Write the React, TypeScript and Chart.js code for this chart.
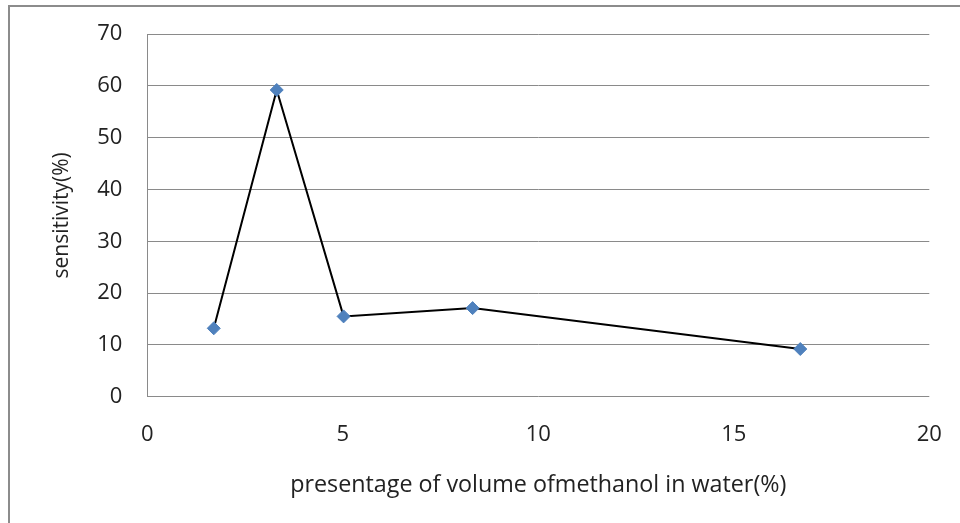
import React, { useEffect, useRef } from "react";
import { Chart, registerables } from "chart.js";

Chart.register(...registerables);

const xValues = [1.7, 3.31, 5.02, 8.32, 16.7];
const yValues = [13.2, 59.2, 15.5, 17.1, 9.2];
const xTitle = "presentage of volume ofmethanol in water(%)";
const yTitle = "sensitivity(%)";

const FONT = "'Open Sans', 'DejaVu Sans', sans-serif";
const GRID = "#8a8a8a";

const frame = {
  id: "frame",
  beforeDraw(chart: any) {
    const ctx = chart.ctx;
    ctx.save();
    ctx.fillStyle = "#ffffff";
    ctx.fillRect(0, 0, chart.width, chart.height);
    ctx.strokeStyle = "#8c8c8c";
    ctx.lineWidth = 2;
    ctx.beginPath();
    ctx.moveTo(9, chart.height);
    ctx.lineTo(9, 6);
    ctx.lineTo(chart.width, 6);
    ctx.stroke();
    ctx.restore();
  },
};

export default function App() {
  const ref = useRef<HTMLCanvasElement>(null);
  useEffect(() => {
    if (!ref.current) return;
    const chart = new Chart(ref.current, {
      type: "scatter",
      data: {
        datasets: [
          {
            data: xValues.map((x, i) => ({ x, y: yValues[i] })),
            showLine: true,
            borderColor: "#000000",
            borderWidth: 2,
            pointStyle: "rectRot",
            pointRadius: 6.5,
            pointBackgroundColor: "#4F81BD",
            pointBorderColor: "#4F81BD",
            pointBorderWidth: 1,
          },
        ],
      },
      options: {
        animation: false,
        responsive: false,
        maintainAspectRatio: false,
        layout: { padding: { left: 0, right: 30.7, top: 34, bottom: 0 } },
        plugins: { legend: { display: false }, tooltip: { enabled: false } },
        scales: {
          x: {
            type: "linear",
            min: 0,
            max: 20,
            ticks: {
              stepSize: 5,
              padding: 24.5,
              color: "#222",
              font: { family: FONT, size: 22 },
            },
            grid: { display: false, drawTicks: false },
            border: { display: false },
            title: {
              display: true,
              text: xTitle,
              color: "#222",
              font: { family: FONT, size: 23.3 },
              padding: { top: 0, bottom: 24 },
            },
            afterFit(scale: any) {
              scale.height = 523 - 396.7;
              scale.paddingLeft = 0;
              scale.paddingRight = 0;
            },
          },
          y: {
            type: "linear",
            min: 0,
            max: 70,
            ticks: {
              stepSize: 10,
              padding: 25,
              color: "#222",
              font: { family: FONT, size: 22 },
            },
            grid: { color: GRID, lineWidth: 1, drawTicks: false },
            border: { display: true, color: GRID, width: 1 },
            title: {
              display: true,
              text: yTitle,
              color: "#222",
              font: { family: FONT, size: 21 },
              padding: { top: 49.4, bottom: 0 },
            },
            afterFit(scale: any) {
              scale.width = 147.3;
              scale.paddingTop = 0;
              scale.paddingBottom = 0;
            },
          },
        },
      },
      plugins: [frame],
    });
    return () => chart.destroy();
  }, []);
  return (
    <div style={{ position: "absolute", left: 0, top: 0, width: 960, height: 523 }}>
      <canvas ref={ref} width={960} height={523} style={{ display: "block" }} />
    </div>
  );
}
